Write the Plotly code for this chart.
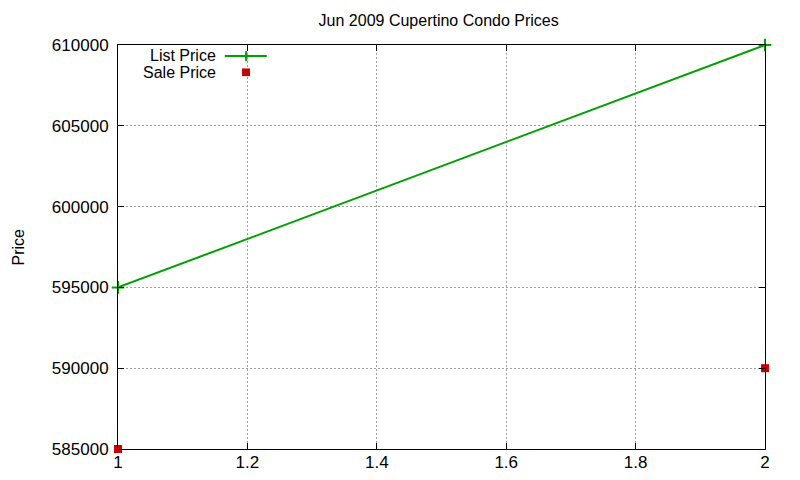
import plotly.graph_objects as go

# data
x_vals = [1, 2]
list_price = [595000, 610000]
sale_price = [585000, 590000]

col_list = "#00a000"
col_sale = "#cc0000"
font = "Liberation Sans, Arial, sans-serif"

fig = go.Figure()
fig.add_trace(go.Scatter(
    x=x_vals, y=list_price, name="List Price",
    mode="lines+markers",
    line=dict(color=col_list, width=2),
    marker=dict(symbol="cross-thin", size=9, line=dict(color=col_list, width=2)),
    cliponaxis=False, showlegend=False,
))
fig.add_trace(go.Scatter(
    x=x_vals, y=sale_price, name="Sale Price",
    mode="markers",
    marker=dict(symbol="square", size=8, color=col_sale),
    cliponaxis=False, showlegend=False,
))

# gnuplot style key: text right-aligned, sample on the right
fig.add_annotation(xref="paper", yref="paper", x=0.1546, y=0.9728,
                   xanchor="right", yanchor="middle",
                   text="List Price", showarrow=False, font=dict(size=16))
fig.add_annotation(xref="paper", yref="paper", x=0.1546, y=0.933,
                   xanchor="right", yanchor="middle",
                   text="Sale Price", showarrow=False, font=dict(size=16))
fig.add_shape(type="line", xref="paper", yref="paper", x0=0.165, x1=0.230,
              y0=0.9728, y1=0.9728, line=dict(color=col_list, width=2))
fig.add_shape(type="line", xref="paper", yref="paper", x0=0.198, x1=0.198,
              y0=0.960, y1=0.985, line=dict(color=col_list, width=2))
fig.add_shape(type="rect", xref="paper", yref="paper", x0=0.1917, x1=0.204,
              y0=0.923, y1=0.942, fillcolor=col_sale, line=dict(width=0))

# y axis title, placed like gnuplot's (kept inside the figure edge)
fig.add_annotation(xref="paper", yref="paper", x=-110 / 647, y=0.5,
                   xanchor="left", yanchor="middle", textangle=-90, borderpad=0,
                   text="Price", showarrow=False, font=dict(size=16))

axis_common = dict(
    showline=True, linecolor="black", linewidth=1, mirror="ticks",
    ticks="inside", ticklen=6, tickcolor="black",
    showgrid=True, gridcolor="#a0a0a0", griddash="2px,2px", gridwidth=1,
    zeroline=False, automargin=False, tickfont=dict(size=17, color="black"),
)
fig.update_xaxes(range=[1, 2], dtick=0.2, ticklabelstandoff=-2, **axis_common)
fig.update_yaxes(range=[585000, 610000], dtick=5000, tickformat="d",
                 ticklabelstandoff=5, **axis_common)

# page body adds 8px, so the figure is a bit smaller than the window
fig.update_layout(
    width=792, height=472,
    margin=dict(l=110, r=35, t=37, b=31),
    paper_bgcolor="white", plot_bgcolor="white",
    font=dict(family=font, size=16, color="black"),
    title=dict(text="Jun 2009 Cupertino Condo Prices", x=0.5438, xanchor="center",
               y=0.9746, yanchor="middle", font=dict(size=16)),
)

fig.write_html("out.html")
